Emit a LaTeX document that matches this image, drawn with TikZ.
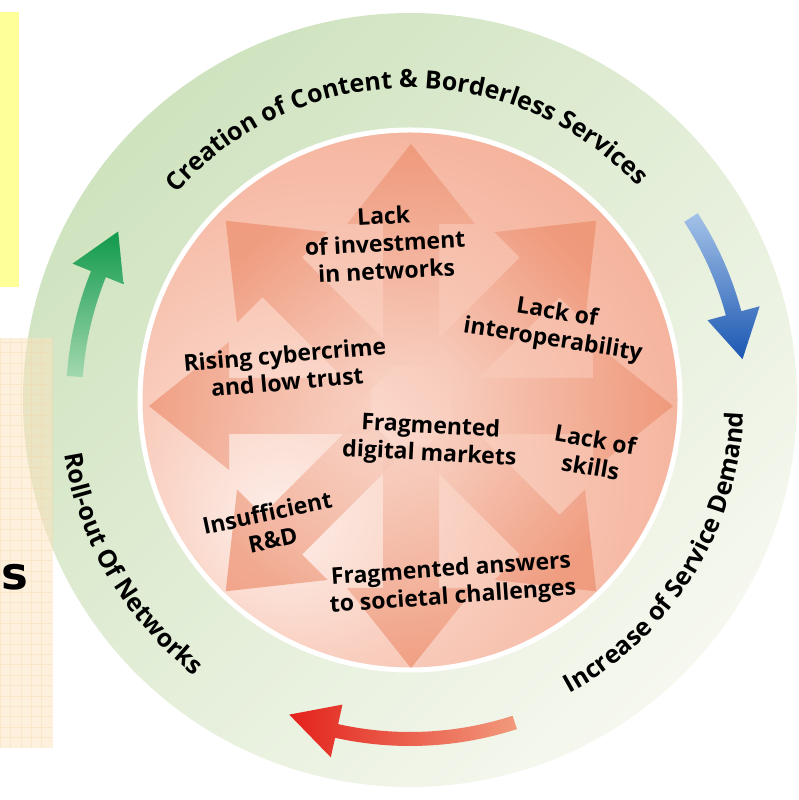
\documentclass[tikz,border=0pt]{standalone}
\usepackage{fontspec}
\setmainfont{Open Sans}
\newfontfamily\sidefont{DejaVu Sans}
\usepackage{xcolor}
\usepackage{tikz}
\usetikzlibrary{decorations.text}
\definecolor{ringA}{HTML}{CFE3BF}
\definecolor{ringB}{HTML}{F6F8EF}
\definecolor{pinkIn}{HTML}{FDEFEA}
\definecolor{pinkMid}{HTML}{F9CDBD}
\definecolor{pinkOut}{HTML}{F3A88F}
\definecolor{arrowSalmon}{HTML}{EC8A68}
\definecolor{cycGreen}{HTML}{10994C}
\definecolor{cycGreenL}{HTML}{A3D8AE}
\definecolor{cycBlue}{HTML}{1B57B2}
\definecolor{cycBlueL}{HTML}{A4C2E8}
\definecolor{cycRed}{HTML}{E3221C}
\definecolor{cycRedL}{HTML}{F29A7C}
\definecolor{noteYellow}{HTML}{FFFF99}
\definecolor{noteBeige}{HTML}{FBE3C0}
\definecolor{gridBeige}{HTML}{F6D3A3}
\pgfdeclareradialshading{pinkglow}{\pgfpoint{-13bp}{-12bp}}{color(0bp)=(pinkIn); color(16bp)=(pinkMid); color(40bp)=(pinkOut); color(60bp)=(pinkOut)}
\newcommand\ringfont{\bfseries\fontsize{25}{30}\selectfont}

\begin{document}
\begin{tikzpicture}[x=1pt, y=1pt,
    inlabel/.style={align=center, font=\bfseries\fontsize{23}{27.5}\selectfont, inner sep=0pt},
    bigarrow/.style={opacity=0.65},
    ringtext/.style={decorate, decoration={text along path, text align=center}},
]
    \useasboundingbox (0,0) rectangle (798,800);
    \coordinate (hub) at (410,400);
    \coordinate (star) at (411,394);

    % green ring and pink disc
    \shade[top color=ringA, bottom color=ringB, shading angle=45] (hub) circle[radius=387];
    \shadedraw[shading=pinkglow, draw=white, line width=5] (hub) circle[radius=270];

    % eight block arrows
    \foreach \a in {0,45,...,315}{
      \begin{scope}[shift={(star)}, rotate=\a]
        \shade[bigarrow, top color=arrowSalmon, bottom color=arrowSalmon!35!pinkIn, shading angle=\a-90]
          (40,-28) -- (182,-28) -- (182,-64) -- (262,0) -- (182,64) -- (182,28) -- (40,28) -- cycle;
      \end{scope}
    }

    \node[inlabel, rotate=3] (lackinv) at (385,557) {Lack\\of investment\\in networks};
    \node[inlabel, rotate=-9] (interop) at (555,473) {Lack of\\interoperability};
    \node[inlabel, rotate=5] (cyber) at (286,432) {Rising cybercrime\\and low trust};
    \node[inlabel, rotate=-3] (fragdig) at (430,359) {Fragmented\\digital markets};
    \node[inlabel, rotate=-10] (skills) at (593,347) {Lack of\\skills};
    \node[inlabel, rotate=12] (rnd) at (270,274) {Insufficient\\R\&D};
    \node[inlabel, rotate=4] (fragans) at (452,216) {Fragmented answers\\to societal challenges};

    % cycle arrows and ring texts
    \begin{scope}[shift={(hub)}]
      \shade[top color=cycGreen, bottom color=cycGreenL]
        (176:344) arc[start angle=176, end angle=158, radius=344] -- (158:364) -- (150:337)
        -- (158:309) -- (158:328) arc[start angle=158, end angle=176, radius=328] -- cycle;
      \shade[top color=cycBlueL, bottom color=cycBlue]
        (33:343) arc[start angle=33, end angle=15, radius=343] -- (15:362) -- (7:335)
        -- (15:308) -- (15:327) arc[start angle=15, end angle=33, radius=327] -- cycle;
      \shade[left color=cycRed, right color=cycRedL]
        (-72:346) arc[start angle=-72, end angle=-102.5, radius=346] -- (-102.5:366) -- (-111:337)
        -- (-102.5:312) -- (-102.5:332) arc[start angle=-102.5, end angle=-72, radius=332] -- cycle;

      \path[ringtext, decoration={text={|\ringfont|Creation of Content {\&} Borderless Services}}]
        (160:312) arc[start angle=160, end angle=21.6, radius=312];
      \path[ringtext, decoration={text={|\ringfont|Increase of Service Demand}}]
        (-75:334) arc[start angle=-75, end angle=11.4, radius=334];
      \path[ringtext, decoration={text={|\ringfont|Roll-out Of Networks}}]
        (180:350) arc[start angle=180, end angle=241, radius=350];
    \end{scope}

    % side boxes
    \fill[noteYellow] (0,513) rectangle (19,788);
    \fill[noteBeige, fill opacity=0.55] (0,52) rectangle (52,462);
    \draw[gridBeige, opacity=0.35, line width=0.6, step=10.4] (0,52) grid (52,462);
    \node[anchor=base west, font=\sidefont\bfseries\fontsize{45}{50}\selectfont, inner sep=0pt] (sideS) at (1,210) {s};
\end{tikzpicture}
\end{document}
